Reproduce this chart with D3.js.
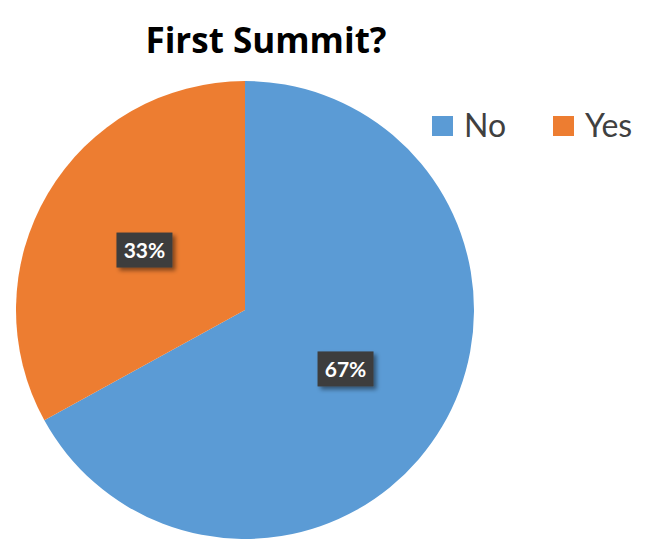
<!DOCTYPE html>
<html>
<head>
<meta charset="utf-8">
<script src="https://cdn.jsdelivr.net/npm/d3@7"></script>
<style>
  body { margin: 0; background: #fff; }
  text { font-family: Lato, "Open Sans", sans-serif; }
</style>
</head>
<body>
<div id="chart"></div>
<script>
// données du graphique
var categories = ["No", "Yes"];
var values = [67, 33];
var colors = ["#5B9BD5", "#ED7D31"];

var width = 650, height = 549;
var cx = 245, cy = 310, radius = 229;

var svg = d3.select("#chart")
    .append("svg")
    .attr("width", width)
    .attr("height", height);

var defs = svg.append("defs");
var shadow = defs.append("filter").attr("id", "shadow")
    .attr("x", "-20%").attr("y", "-20%").attr("width", "150%").attr("height", "160%");
shadow.append("feDropShadow")
    .attr("dx", 3).attr("dy", 3).attr("stdDeviation", 2)
    .attr("flood-color", "#000").attr("flood-opacity", 0.45);

// Titre
svg.append("text")
    .attr("x", 266)
    .attr("y", 53)
    .attr("text-anchor", "middle")
    .style("font-family", "'Open Sans', sans-serif")
    .style("font-size", "35px")
    .style("font-weight", "bold")
    .attr("fill", "#000")
    .text("First Summit?");

var data = categories.map((c, i) => ({ key: c, value: values[i], color: colors[i] }));

var pie = d3.pie().sort(null).value(d => d.value);
var arc = d3.arc().innerRadius(0).outerRadius(radius);
var labelArc = d3.arc().innerRadius(radius * 0.51).outerRadius(radius * 0.51);

var g = svg.append("g").attr("transform", "translate(" + cx + "," + cy + ")");
var arcs = pie(data);

g.selectAll("path")
    .data(arcs)
    .enter()
    .append("path")
    .attr("d", arc)
    .attr("fill", d => d.data.color);

// étiquettes de pourcentage
var total = d3.sum(values);
var labels = g.selectAll("g.lbl")
    .data(arcs)
    .enter()
    .append("g")
    .attr("class", "lbl")
    .attr("transform", d => "translate(" + labelArc.centroid(d) + ")");

labels.append("rect")
    .attr("x", -28).attr("y", -18)
    .attr("width", 56).attr("height", 35)
    .attr("fill", "#3d3d3d")
    .attr("filter", "url(#shadow)");

labels.append("text")
    .attr("text-anchor", "middle")
    .attr("dy", "0.36em")
    .attr("fill", "#fff")
    .style("font-size", "21px")
    .style("font-weight", "bold")
    .text(d => Math.round(d.data.value / total * 100) + "%");

// Légende
var legendX = [432, 553];
var legend = svg.selectAll("g.legend")
    .data(data)
    .enter()
    .append("g")
    .attr("class", "legend")
    .attr("transform", (d, i) => "translate(" + legendX[i] + ",116)");

legend.append("rect")
    .attr("width", 21).attr("height", 20)
    .attr("fill", d => d.color);

legend.append("text")
    .attr("x", 32)
    .attr("y", 21)
    .attr("fill", "#404040")
    .style("font-size", "32px")
    .text(d => d.key);
</script>
</body>
</html>
